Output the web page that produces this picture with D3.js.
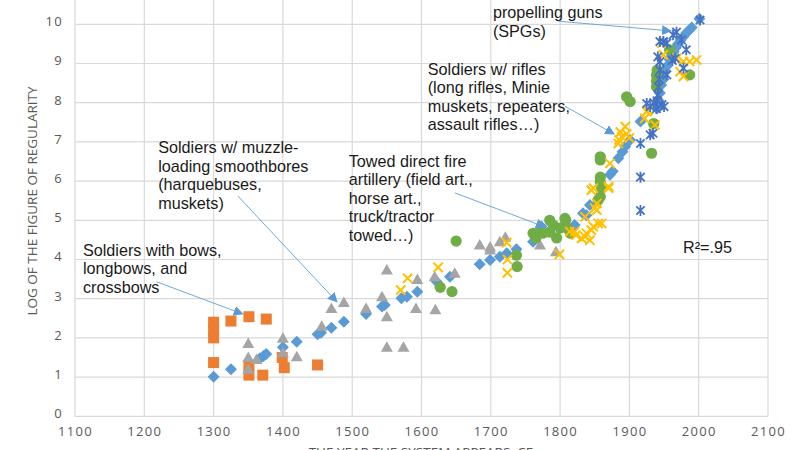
<!DOCTYPE html>
<html><head><meta charset="utf-8">
<script src="https://cdn.jsdelivr.net/npm/d3@7"></script>
<style>
body{margin:0;background:#fff;}
svg{display:block;}
</style></head>
<body>
<svg id="chart" width="800" height="450"></svg>
<script>
// ---- Data ----
const xTicks = [1100,1200,1300,1400,1500,1600,1700,1800,1900,2000,2100];
const yTicks = [0,1,2,3,4,5,6,7,8,9,10];

const diamondYears = [1300,1325,1367,1372,1376,1400,1420,1450,1455,1470,1488,1520,1543,1547,1571,1579,1594,1622,1641,1684,1699,1713,1723,1737,1761,1773,1821,1833,1838,1843,1872,1876,1884,1890,1894,1901,1916,1940,1942,1944,1946,1949,1952,1955,1958,1961,1964,1967,1970,1974,1978,1982,1986,1990,2001];
const diamondVals  = [1.01,1.2,1.48,1.54,1.59,1.76,1.9,2.09,2.13,2.26,2.41,2.61,2.8,2.84,3.01,3.05,3.18,3.43,3.56,3.88,3.99,4.07,4.16,4.26,4.45,4.84,4.88,5.18,5.13,5.39,6.16,6.25,6.58,6.75,6.88,7.05,7.52,7.85,8.05,8.25,8.45,8.6,8.8,8.95,9.1,9.2,9.3,9.4,9.5,9.6,9.68,9.78,9.85,9.92,10.14];

const squareYears = [1300,1300,1300,1300,1325,1351,1376,1351,1351,1371,1399,1402,1450];
const squareVals  = [2.4,2.2,2.0,1.37,2.43,2.54,2.48,1.3,1.05,1.05,1.5,1.24,1.31];

const triangleYears = [1350,1350,1350,1362,1400,1400,1420,1456,1470,1488,1520,1543,1550,1550,1550,1574,1594,1592,1620,1619,1648,1684,1699,1699,1713,1721,1771,1794];
const triangleVals  = [1.86,1.5,1.2,1.45,1.99,1.62,1.52,2.3,2.75,2.9,2.75,3.05,3.73,2.54,1.76,1.76,3.49,2.75,2.72,3.56,3.65,4.37,4.24,4.32,4.45,4.57,4.37,4.2];

const crossYears = [1570,1580,1624,1723,1724,1724,1799,1814,1821,1823,1831,1836,1838,1843,1845,1848,1855,1860,1836,1850,1853,1853,1848,1845,1870,1870,1872,1884,1889,1894,1887,1896,1900,1885,1922,1925,1927,1937,1947,1949,1968,1978,1987,1997,1973,1978];
const crossVals  = [3.22,3.52,3.8,4.43,4.0,3.66,4.13,4.71,4.71,4.62,4.54,4.58,4.67,4.49,4.75,4.84,4.92,4.92,5.09,5.31,5.26,5.43,5.82,5.77,5.82,5.86,6.45,6.96,7.13,7.39,7.25,7.2,7.1,7.05,7.6,7.77,7.81,7.43,9.52,9.22,9.13,9.05,9.05,9.09,8.79,8.67];

const circleYears = [1627,1644,1650,1737,1738,1761,1765,1768,1775,1785,1785,1790,1795,1800,1808,1810,1815,1807,1855,1858,1860,1858,1858,1858,1858,1896,1901,1932,1935,1939,1939,1939,1940,1958,1987];
const circleVals  = [3.29,3.18,4.47,4.11,3.82,4.67,4.55,4.67,4.67,4.7,5.0,4.88,4.55,4.8,5.0,4.8,4.67,5.05,5.52,5.6,5.82,5.98,6.1,6.54,6.62,8.15,8.03,6.71,7.47,8.41,8.55,8.7,8.83,9.35,8.71];

const asteriskYears = [1916,1916,1916,1930,1934,1925,1930,1935,1939,1940,1941,1942,1943,1944,1941,1944,1944,1949,1954,1954,1962,1963,1966,1968,1975,1978,1982,2002,1947,1950];
const asteriskVals  = [6.96,6.1,5.25,7.18,7.22,7.98,7.9,8.0,7.85,8.05,8.2,8.4,8.6,8.83,9.17,9.05,9.56,9.56,9.52,8.71,9.08,9.73,9.13,9.8,9.6,8.88,9.35,10.11,7.95,7.9];

const annotations = [
  {lines:["Soldiers with bows,","longbows, and","crossbows"], tx:1111.5, ty:4.09, from:[1218,3.43], to:[1342,2.61]},
  {lines:["Soldiers w/ muzzle-","loading smoothbores","(harquebuses,","muskets)"], tx:1220, ty:6.71, from:[1335,5.62], to:[1478,2.92]},
  {lines:["Towed direct fire","artillery (field art.,","horse art.,","truck/tractor","towed…)"], tx:1495, ty:6.36, from:[1648,5.7], to:[1778,4.83]},
  {lines:["Soldiers w/ rifles","(long rifles, Minie","muskets, repeaters,","assault rifles…)"], tx:1609, ty:8.71, from:[1807,7.91], to:[1878,7.2]},
  {lines:["propelling guns","(SPGs)"], tx:1703, ty:10.16, from:[1797,10.08], to:[1960,9.83]}
];
const r2Label = "R²=.95";
const xTitle = "THE YEAR THE SYSTEM APPEARS, CE";
const yTitle = "LOG OF THE FIGURE OF REGULARITY";

// ---- Chart ----
const svg = d3.select("#chart");
const x = d3.scaleLinear().domain([1100,2100]).range([75,768]);
const y = d3.scaleLinear().domain([0,10]).range([416.3,24.3]);
const gridCol = "#d9d9d9", tickCol = "#595959";
const FONT = "'Open Sans',sans-serif";
const AFONT = "'Liberation Sans',Arial,sans-serif";

// gridlines
svg.append("g").selectAll("line").data(yTicks).join("line")
  .attr("x1", x(1100)).attr("x2", x(2100))
  .attr("y1", d=>y(d)).attr("y2", d=>y(d))
  .attr("stroke", gridCol).attr("stroke-width", 1.2);
svg.append("g").selectAll("line").data(xTicks).join("line")
  .attr("x1", d=>x(d)).attr("x2", d=>x(d))
  .attr("y1", y(0)).attr("y2", y(10.8))
  .attr("stroke", gridCol).attr("stroke-width", 1.2);

// axes (labels)
const xAxis = d3.axisBottom(x).tickValues(xTicks).tickSize(0).tickPadding(10).tickFormat(d3.format("d"));
const gx = svg.append("g").attr("transform", `translate(0,${y(0)})`).call(xAxis);
gx.select(".domain").remove();
gx.selectAll("text").attr("fill", tickCol).style("font-family",FONT).style("font-size","13px").style("letter-spacing","1.3px");

const yAxis = d3.axisLeft(y).tickValues(yTicks).tickSize(0).tickPadding(12);
const gy = svg.append("g").attr("transform", `translate(${x(1100)},0)`).call(yAxis);
gy.select(".domain").remove();
gy.selectAll("text").attr("fill", tickCol).attr("dy","0.1em").style("font-family",FONT).style("font-size","13px").style("letter-spacing","1.3px");

// axis titles (x title sits at the bottom edge, partly cropped as in the reference)
svg.append("text").attr("x", 421).attr("y", 457).attr("text-anchor","middle")
  .attr("fill", tickCol).style("font-family",FONT).style("font-size","13.5px").text(xTitle);
svg.append("text").attr("transform","translate(37,201) rotate(-90)").attr("text-anchor","middle")
  .attr("fill", tickCol).style("font-family",FONT).style("font-size","13.5px").text(yTitle);

// custom symbol types
const diamondSym = {draw(c, s){ const r=s; c.moveTo(0,-r); c.lineTo(r,0); c.lineTo(0,r); c.lineTo(-r,0); c.closePath(); }};
const squareSym = {draw(c, s){ c.rect(-s,-s,2*s,2*s); }};
const triSym = {draw(c, s){ c.moveTo(0,-s); c.lineTo(s*1.0,s*0.75); c.lineTo(-s*1.0,s*0.75); c.closePath(); }};
const circSym = {draw(c, s){ c.moveTo(s,0); c.arc(0,0,s,0,2*Math.PI); }};
const xSym = {draw(c, s){ c.moveTo(-s,-s); c.lineTo(s,s); c.moveTo(s,-s); c.lineTo(-s,s); }};
const astSym = {draw(c, s){ c.moveTo(-s,-s); c.lineTo(s,s); c.moveTo(s,-s); c.lineTo(-s,s); c.moveTo(0,-s*1.3); c.lineTo(0,s*1.3); }};

function series(years, vals, sym, size, fill, stroke, sw){
  const data = years.map((yr,i)=>({yr, v:vals[i]}));
  svg.append("g").selectAll("path").data(data).join("path")
    .attr("transform", d=>`translate(${x(d.yr)},${y(d.v)})`)
    .attr("d", d3.symbol().type(sym).size(size)())
    .attr("fill", fill).attr("stroke", stroke).attr("stroke-width", sw||0);
}
series(squareYears, squareVals, squareSym, 5.5, "#ed7d31", "none");
series(diamondYears, diamondVals, diamondSym, 6, "#5b9bd5", "none");
series(triangleYears, triangleVals, triSym, 6, "#a5a5a5", "none");
series(circleYears, circleVals, circSym, 5.6, "#70ad47", "none");
series(crossYears, crossVals, xSym, 4.6, "none", "#ffc000", 2);
series(asteriskYears, asteriskVals, astSym, 4.2, "none", "#4472c4", 1.8);

// annotations
const defs = svg.append("defs");
defs.append("marker").attr("id","ah").attr("viewBox","0 0 10 10").attr("refX",9).attr("refY",5)
  .attr("markerWidth",10).attr("markerHeight",10).attr("markerUnits","userSpaceOnUse").attr("orient","auto")
  .append("path").attr("d","M0,0L10,5L0,10z").attr("fill","#5b9bd5");
annotations.forEach(a=>{
  const g = svg.append("g");
  a.lines.forEach((l,i)=> g.append("text").attr("x", x(a.tx)).attr("y", y(a.ty) + i*18.5)
    .attr("fill","#1a1a1a").style("font-family",AFONT).style("font-size","16.2px").text(l));
  svg.append("line").attr("x1", x(a.from[0])).attr("y1", y(a.from[1]))
    .attr("x2", x(a.to[0])).attr("y2", y(a.to[1]))
    .attr("stroke","#6fa8dc").attr("stroke-width",1).attr("marker-end","url(#ah)");
});
svg.append("text").attr("x", 683).attr("y", 253).attr("fill","#1a1a1a")
  .style("font-family",AFONT).style("font-size","16.2px").text(r2Label);
</script>
</body></html>
